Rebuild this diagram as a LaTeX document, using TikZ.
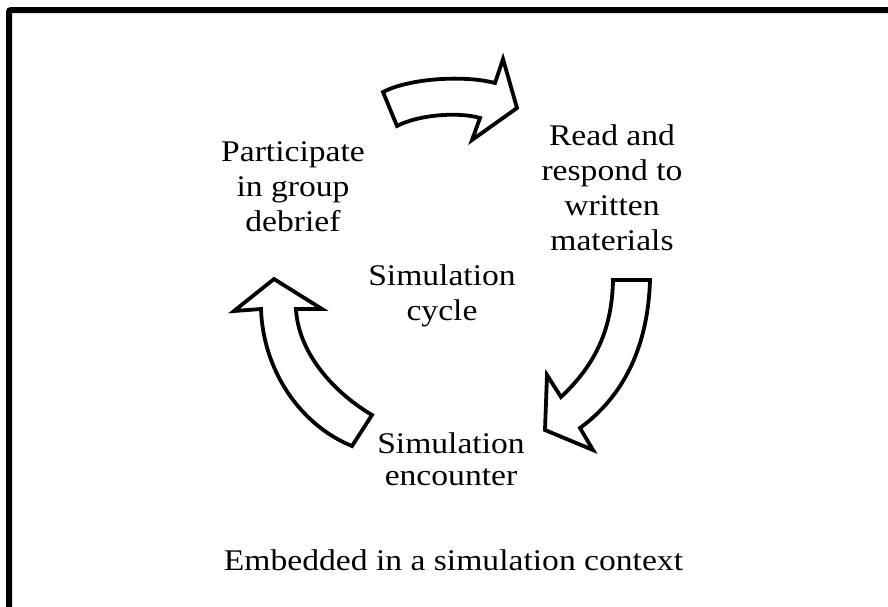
\documentclass[tikz,border=0pt]{standalone}
\usepackage{fontspec}
\setmainfont{Liberation Serif}[FakeStretch=1.12]
\begin{document}
\begin{tikzpicture}[x=1pt,y=-1pt,
  lbl/.style={font=\fontsize{30}{35}\selectfont, align=center, inner sep=0pt, anchor=base},
  blockarrow/.style={draw=black, fill=white, line width=3.8pt, line join=miter}]
\useasboundingbox (0,0) rectangle (888,606);
\clip (0,0) rectangle (888,606);
% outer frame (runs past the right and bottom edges)
\draw[line width=6pt, rounded corners=2pt] (9,10) rectangle (920,640);

% labels (anchored at the baseline of their last line)
\node[lbl] (debrief) at (293,231) {Participate\\in group\\debrief};
\node[lbl] (read) at (612,250) {Read and\\respond to\\written\\materials};
\node[lbl] (cycle) at (442,320) {Simulation\\cycle};
\node[lbl, font=\fontsize{30}{32}\selectfont] (encounter) at (451,485) {Simulation\\encounter};
\node[lbl] (context) at (453.5,570) {Embedded in a simulation context};

% top arrow: debrief -> read
\draw[blockarrow] (383,92) .. controls (410,78) and (465,75) .. (495,83)
  -- (503,59) -- (517,108) -- (472,140) -- (480,118)
  .. controls (460,112) and (420,114) .. (397,126) -- cycle;

% right arrow: read -> encounter
\draw[blockarrow] (613,280) -- (650,280)
  .. controls (648,345) and (625,395) .. (580,428)
  -- (593,450) -- (545,430) -- (547,375) -- (561,397)
  .. controls (595,365) and (612,330) .. (613,280) -- cycle;

% left arrow: encounter -> debrief
\draw[blockarrow] (352,446) -- (372,415)
  .. controls (330,390) and (298,350) .. (296,309)
  -- (322,309) -- (274,279) -- (234,311) -- (261,309)
  .. controls (263,370) and (300,425) .. (352,446) -- cycle;
\end{tikzpicture}
\end{document}
